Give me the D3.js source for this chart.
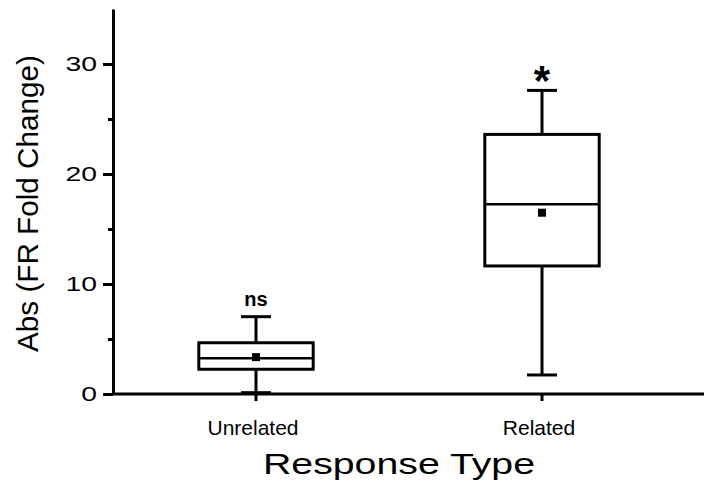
<!DOCTYPE html>
<html>
<head>
<meta charset="utf-8">
<script src="https://cdn.jsdelivr.net/npm/d3@7"></script>
<style>
  body { margin: 0; background: #fff; }
  text { font-family: "Liberation Sans", Arial, sans-serif; fill: #000; }
</style>
</head>
<body>
<div class="chart"></div>
<script>
// data
var categories = ["Unrelated", "Related"];
var whiskerLow = [0.12, 1.73];
var q1 = [2.25, 11.64];
var median = [3.25, 17.25];
var q3 = [4.66, 23.6];
var whiskerHigh = [7.03, 27.6];
var means = [3.35, 16.48];
var sigLabels = ["ns", "*"];
var yTicks = [0, 10, 20, 30];
var yMinorTicks = [5, 15, 25];

var svgWidth = 704;
var svgHeight = 498;

var svg = d3.select(".chart")
  .append("svg")
  .attr("width", svgWidth)
  .attr("height", svgHeight);

var y = d3.scaleLinear().domain([0, 35]).range([394, 9]);
var x = d3.scaleBand().domain(categories).range([113, 685]);

// y axis, minor ticks first
svg.append("g")
  .attr("transform", "translate(113,0)")
  .call(d3.axisLeft(y).tickValues(yMinorTicks).tickSize(5).tickFormat(""))
  .call(function(g) { g.select(".domain").remove(); })
  .selectAll("line").attr("stroke-width", 3);

var yAxis = svg.append("g")
  .attr("transform", "translate(113,0)")
  .call(d3.axisLeft(y).tickValues(yTicks).tickSize(10).tickSizeOuter(0));
yAxis.select(".domain").attr("stroke-width", 3);
yAxis.selectAll(".tick line").attr("stroke-width", 3);
yAxis.selectAll(".tick text")
  .attr("font-size", 21)
  .attr("transform", "scale(1.35,1)")
  .attr("x", -16 / 1.35);

// x axis
svg.append("line")
  .attr("x1", 113).attr("x2", svgWidth)
  .attr("y1", 394).attr("y2", 394)
  .attr("stroke", "#000").attr("stroke-width", 3);

var xAxis = svg.append("g")
  .attr("transform", "translate(0,394)")
  .call(d3.axisBottom(x).tickSize(7).tickSizeOuter(0));
xAxis.select(".domain").remove();
xAxis.selectAll(".tick line").attr("stroke-width", 3);
xAxis.selectAll(".tick text")
  .attr("font-size", 21)
  .attr("dy", 0)
  .attr("y", 41)
  .attr("x", -3);

// titles
svg.append("text")
  .attr("x", 263).attr("y", 474)
  .attr("font-size", 30)
  .attr("textLength", 272)
  .attr("lengthAdjust", "spacingAndGlyphs")
  .text("Response Type");

svg.append("text")
  .attr("transform", "translate(38,352) rotate(-90)")
  .attr("font-size", 30)
  .attr("textLength", 297)
  .attr("lengthAdjust", "spacingAndGlyphs")
  .text("Abs (FR Fold Change)");

// boxes
var boxW = x.bandwidth() * 0.4;
var capW = 30;
var groups = svg.selectAll(".box")
  .data(categories)
  .enter()
  .append("g")
  .attr("class", "box");

groups.append("line")
  .attr("x1", function(d) { return x(d) + x.bandwidth() / 2; })
  .attr("x2", function(d) { return x(d) + x.bandwidth() / 2; })
  .attr("y1", function(d, i) { return y(whiskerLow[i]); })
  .attr("y2", function(d, i) { return y(whiskerHigh[i]); })
  .attr("stroke", "#000").attr("stroke-width", 3);

[whiskerLow, whiskerHigh].forEach(function(arr) {
  groups.append("line")
    .attr("x1", function(d) { return x(d) + x.bandwidth() / 2 - capW / 2; })
    .attr("x2", function(d) { return x(d) + x.bandwidth() / 2 + capW / 2; })
    .attr("y1", function(d, i) { return y(arr[i]); })
    .attr("y2", function(d, i) { return y(arr[i]); })
    .attr("stroke", "#000").attr("stroke-width", 3);
});

groups.append("rect")
  .attr("x", function(d) { return x(d) + x.bandwidth() / 2 - boxW / 2; })
  .attr("width", boxW)
  .attr("y", function(d, i) { return y(q3[i]); })
  .attr("height", function(d, i) { return y(q1[i]) - y(q3[i]); })
  .attr("fill", "#fff")
  .attr("stroke", "#000").attr("stroke-width", 3);

groups.append("line")
  .attr("x1", function(d) { return x(d) + x.bandwidth() / 2 - boxW / 2; })
  .attr("x2", function(d) { return x(d) + x.bandwidth() / 2 + boxW / 2; })
  .attr("y1", function(d, i) { return y(median[i]); })
  .attr("y2", function(d, i) { return y(median[i]); })
  .attr("stroke", "#000").attr("stroke-width", 2.5);

groups.append("rect")
  .attr("x", function(d) { return x(d) + x.bandwidth() / 2 - 4; })
  .attr("y", function(d, i) { return y(means[i]) - 4; })
  .attr("width", 8).attr("height", 8)
  .attr("fill", "#000");

// significance marks
groups.append("text")
  .attr("x", function(d) { return x(d) + x.bandwidth() / 2; })
  .attr("y", function(d, i) { return i === 0 ? y(whiskerHigh[i]) - 11 : y(whiskerHigh[i]) + 5; })
  .attr("text-anchor", "middle")
  .attr("font-weight", "bold")
  .attr("font-size", function(d, i) { return i === 0 ? 20 : 42; })
  .text(function(d, i) { return sigLabels[i]; });
</script>
</body>
</html>
